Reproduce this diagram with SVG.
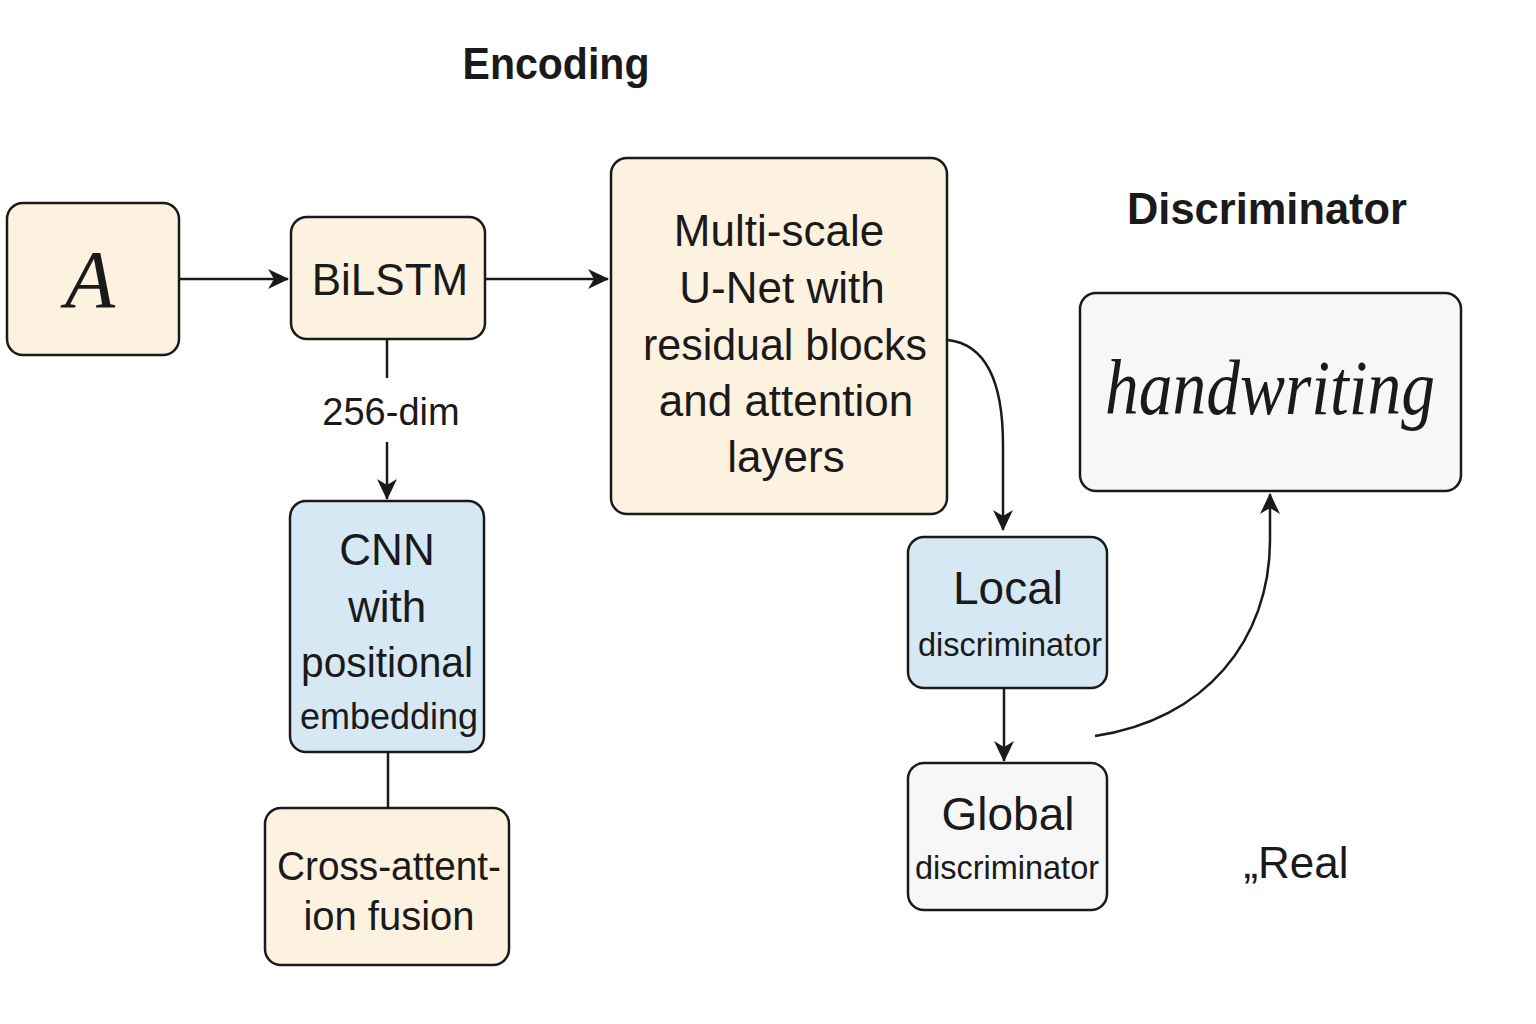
<svg xmlns="http://www.w3.org/2000/svg" width="1536" height="1024" viewBox="0 0 1536 1024">
<style>
.box{stroke:#1a1a1a;stroke-width:2.5}
.cream{fill:#fdf1df}
.blue{fill:#d5e8f4}
.grey{fill:#f7f7f7}
.t{font-family:"Liberation Sans",Arial,sans-serif;fill:#1a1a1a;text-anchor:middle}
.title{font-family:"Liberation Sans",Arial,sans-serif;fill:#1a1a1a;text-anchor:middle;font-weight:bold}
.conn{fill:none;stroke:#1a1a1a;stroke-width:2.5}
.serif{font-family:"Liberation Serif","DejaVu Serif",serif;font-style:italic;fill:#1a1a1a;text-anchor:middle}
</style>
<defs>
<marker id="ahL" markerWidth="22" markerHeight="22" refX="20" refY="11" orient="auto" markerUnits="userSpaceOnUse" viewBox="0 0 22 22">
<path d="M0,1 L21,11 L0,21 L6,11 Z" fill="#1a1a1a"/>
</marker>
</defs>
<rect width="1536" height="1024" fill="#ffffff"/>

<text class="title" x="556" y="79" font-size="44" textLength="187" lengthAdjust="spacingAndGlyphs">Encoding</text>
<text class="title" x="1267" y="224" font-size="45" textLength="280" lengthAdjust="spacingAndGlyphs">Discriminator</text>
<text class="t" x="1296" y="878" font-size="44">„Real</text>

<g id="connectors">
<line class="conn" x1="180" y1="279" x2="288" y2="279" marker-end="url(#ahL)"/>
<line class="conn" x1="485" y1="279" x2="608" y2="279" marker-end="url(#ahL)"/>
<line class="conn" x1="387" y1="339" x2="387" y2="378"/>
<line class="conn" x1="387" y1="442" x2="387" y2="499" marker-end="url(#ahL)"/>
<line class="conn" x1="388" y1="752" x2="388" y2="808"/>
<path class="conn" d="M948,340 C990,345 1003,390 1003,445 L1003,530" marker-end="url(#ahL)"/>
<line class="conn" x1="1004" y1="688" x2="1004" y2="761" marker-end="url(#ahL)"/>
<path class="conn" d="M1095,736 C1205,720 1270,640 1270,540 L1270,494" marker-end="url(#ahL)"/>
<text class="t" x="391" y="425" font-size="38">256-dim</text>
</g>

<g id="node-a">
<rect class="box cream" x="7" y="203" width="172" height="152" rx="16"/>
<text class="serif" x="90" y="307" font-size="82">A</text>
</g>

<g id="node-bilstm">
<rect class="box cream" x="291" y="217" width="194" height="122" rx="16"/>
<text class="t" x="390" y="295" font-size="44">BiLSTM</text>
</g>

<g id="node-unet">
<rect class="box cream" x="611" y="158" width="336" height="356" rx="16"/>
<text class="t" x="779" y="246" font-size="44">Multi-scale</text>
<text class="t" x="782" y="303" font-size="44">U-Net with</text>
<text class="t" x="785" y="360" font-size="44" textLength="284" lengthAdjust="spacingAndGlyphs">residual blocks</text>
<text class="t" x="786" y="416" font-size="44">and attention</text>
<text class="t" x="786" y="472" font-size="44">layers</text>
</g>

<g id="node-cnn">
<rect class="box blue" x="290" y="501" width="194" height="251" rx="16"/>
<text class="t" x="387" y="565" font-size="44">CNN</text>
<text class="t" x="387" y="622" font-size="44">with</text>
<text class="t" x="387" y="677" font-size="42" textLength="172" lengthAdjust="spacingAndGlyphs">positional</text>
<text class="t" x="389" y="729" font-size="37" textLength="178" lengthAdjust="spacingAndGlyphs">embedding</text>
</g>

<g id="node-fusion">
<rect class="box cream" x="265" y="808" width="244" height="157" rx="16"/>
<text class="t" x="389" y="880" font-size="40" textLength="224" lengthAdjust="spacingAndGlyphs">Cross-attent-</text>
<text class="t" x="389" y="930" font-size="40">ion fusion</text>
</g>

<g id="node-local">
<rect class="box blue" x="908" y="537" width="199" height="151" rx="16"/>
<text class="t" x="1008" y="604" font-size="46">Local</text>
<text class="t" x="1010" y="656" font-size="33" textLength="184" lengthAdjust="spacingAndGlyphs">discriminator</text>
</g>

<g id="node-global">
<rect class="box grey" x="908" y="763" width="199" height="147" rx="16"/>
<text class="t" x="1008" y="830" font-size="46">Global</text>
<text class="t" x="1007" y="879" font-size="33" textLength="184" lengthAdjust="spacingAndGlyphs">discriminator</text>
</g>

<g id="node-handwriting">
<rect class="box grey" x="1080" y="293" width="381" height="198" rx="16"/>
<text class="serif" x="1270" y="414" font-size="78" textLength="330" lengthAdjust="spacingAndGlyphs">handwriting</text>
</g>
</svg>
